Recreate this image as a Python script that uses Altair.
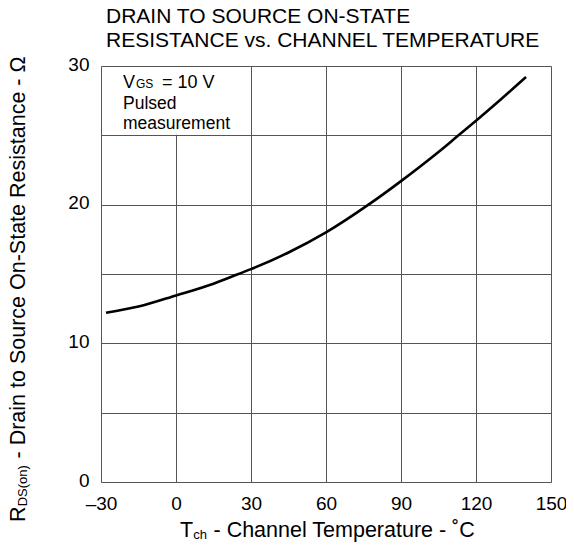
import altair as alt
import pandas as pd

# ---- data ----
temps = [-28, -15, 0, 15, 25, 30, 45, 60, 77, 90, 105, 113, 120, 130, 140]
rds_on = [12.2, 12.65, 13.45, 14.3, 15.0, 15.35, 16.55, 18.0, 20.0, 21.7, 23.8, 25.0, 26.05, 27.6, 29.2]

x_ticks = [-30, 0, 30, 60, 90, 120, 150]
y_ticks = [0, 5, 10, 15, 20, 25, 30]

title_lines = ["DRAIN TO SOURCE ON-STATE", "RESISTANCE vs. CHANNEL TEMPERATURE"]
note_lines = ["Pulsed", "measurement"]

# annotation box (data coordinates, slightly inside the grid lines)
box_x = [-29.6, 29.8]
box_y = [25.04, 29.93]

FONT = "Liberation Sans"
W, H = 450, 416

curve_df = pd.DataFrame({"T": temps, "R": rds_on})
box_df = pd.DataFrame({"x": [box_x[0]], "x2": [box_x[1]], "y": [box_y[0]], "y2": [box_y[1]]})

xscale = alt.Scale(domain=[-30, 150], nice=False, zero=False)
yscale = alt.Scale(domain=[0, 30], nice=False)

base = alt.Chart(curve_df)

curve = base.mark_line(color="black", strokeWidth=2.6, interpolate="monotone").encode(
    x=alt.X("T:Q", scale=xscale,
            axis=alt.Axis(values=x_ticks, title=None, grid=True, ticks=False, domain=False,
                          labelFontSize=19, labelPadding=12, labelColor="black", labelFont=FONT,
                          labelFlush=False, labelOverlap=False,
                          labelExpr="datum.value < 0 ? '–' + abs(datum.value) : datum.label",
                          gridColor="#555555", gridWidth=1, gridOpacity=1)),
    y=alt.Y("R:Q", scale=yscale,
            axis=alt.Axis(values=y_ticks, title=None, grid=True, ticks=False, domain=False,
                          labelFontSize=19, labelPadding=12, labelColor="black", labelFont=FONT,
                          labelOffset=-2, labelFlush=False, labelOverlap=False,
                          labelExpr="datum.value % 10 === 0 ? datum.label : ''",
                          gridColor="#555555", gridWidth=1, gridOpacity=1)),
)

box = alt.Chart(box_df).mark_rect(fill="white", strokeWidth=0).encode(
    x=alt.X("x:Q", scale=xscale), x2="x2:Q",
    y=alt.Y("y:Q", scale=yscale), y2="y2:Q",
)

def txt(s, x, y, size, dx=0, dy=0, angle=0, align="left"):
    return alt.Chart(pd.DataFrame({"t": [s]})).mark_text(
        font=FONT, fontSize=size, color="black", align=align, baseline="alphabetic",
        dx=dx, dy=dy, angle=angle,
    ).encode(text="t:N", x=alt.value(x), y=alt.value(y))

# chart title (two lines)
title = [
    txt(title_lines[0], 5, -43, 21),
    txt(title_lines[1], 5, -19, 21),
]

# V_GS note
note = [
    txt("V", 22, 22, 18),
    txt("GS", 22, 22, 12, dx=13),
    txt("= 10 V", 22, 22, 18, dx=39),
    txt(note_lines[0], 22, 43, 17.5),
    txt(note_lines[1], 22, 63, 17.5),
]

# x-axis title with subscript
xt_x, xt_y = 79, 471
x_title = [
    txt("T", xt_x, xt_y, 21.5),
    txt("ch", xt_x, xt_y, 13, dx=13.3, dy=2),
    txt("- Channel Temperature - ˚C", xt_x, xt_y, 21.5, dx=33.5),
]

# y-axis title (rotated) with subscript
yt_x, yt_y = -76.5, 456
y_title = [
    txt("R", yt_x, yt_y, 21.5, angle=270),
    txt("DS(on)", yt_x, yt_y, 13, dx=15.7, dy=2, angle=270),
    txt("- Drain to Source On-State Resistance - Ω", yt_x, yt_y, 21.5, dx=63.5, angle=270),
]

chart = alt.layer(box, curve, *title, *note, *x_title, *y_title).properties(
    width=W, height=H,
    autosize=alt.AutoSizeParams(type="none"),
    padding={"left": 93, "top": 58, "right": 15, "bottom": 60},
).configure_view(stroke="black", strokeWidth=2).configure(background="white")

chart.save("out.html", embed_options={"renderer": "svg", "actions": False})
